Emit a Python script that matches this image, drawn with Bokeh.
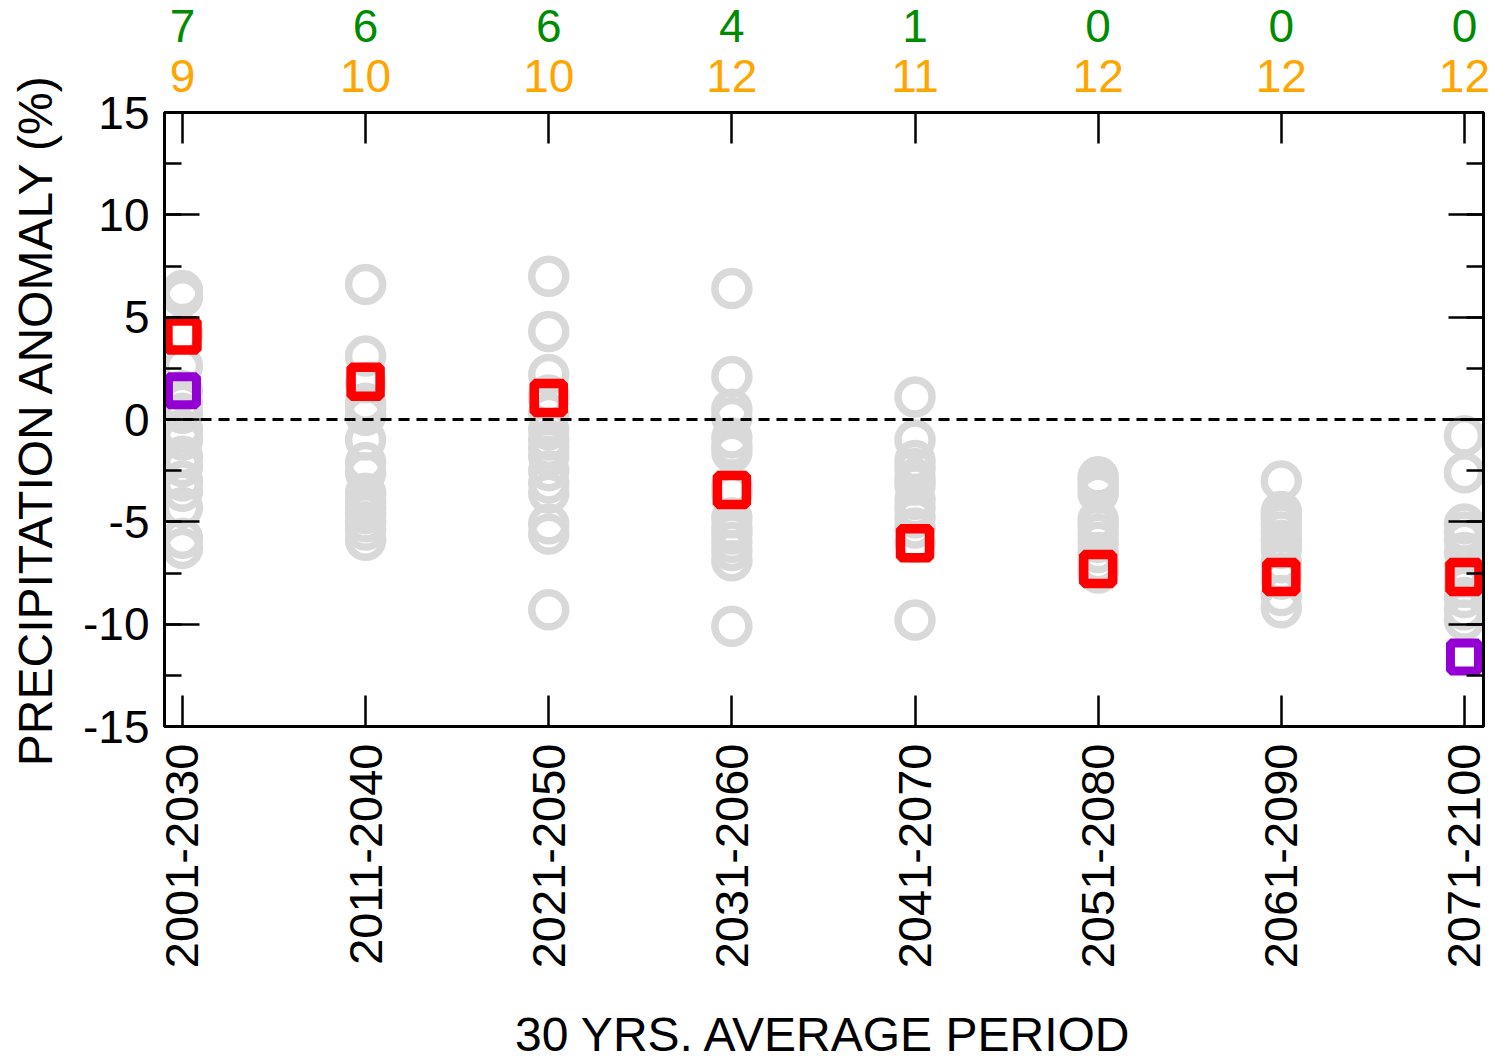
from math import pi
from bokeh.plotting import figure
from bokeh.models import (FixedTicker, SingleIntervalTicker, LinearAxis, Range1d, Span)
from bokeh.embed import file_html
from bokeh.resources import INLINE

periods = ["2001-2030", "2011-2040", "2021-2050", "2031-2060",
           "2041-2070", "2051-2080", "2061-2090", "2071-2100"]
green_counts = [7, 6, 6, 4, 1, 0, 0, 0]
orange_counts = [9, 10, 10, 12, 11, 12, 12, 12]

models = [
    [6.3, 6.0, 4.2, 2.6, 1.4, 0.8, 0.3, -0.5, -1.0, -1.8, -2.3, -3.0, -3.5, -4.3, -5.8, -6.3],
    [6.6, 3.1, 1.8, 0.8, 0.5, 0.2, -1.0, -2.1, -2.6, -3.6, -4.0, -4.3, -4.6, -5.0, -5.4, -5.9],
    [7.0, 4.3, 2.2, 1.2, 1.0, 0.3, -0.5, -1.0, -1.4, -1.8, -2.5, -3.1, -3.6, -5.1, -5.6, -9.3],
    [6.4, 2.1, 0.5, 0.1, -0.9, -1.3, -1.6, -3.3, -3.6, -4.8, -5.3, -5.6, -6.0, -6.4, -6.9, -10.1],
    [1.1, -1.0, -2.0, -2.4, -2.9, -3.2, -3.9, -4.3, -4.8, -5.3, -6.0, -9.8],
    [-2.8, -3.0, -3.3, -3.6, -4.9, -5.2, -5.6, -6.0, -6.5, -7.0, -7.3, -7.5],
    [-3.0, -4.5, -4.8, -5.1, -5.5, -5.9, -6.3, -7.0, -7.5, -7.8, -8.6, -9.2],
    [-0.8, -2.6, -5.1, -5.5, -5.9, -6.5, -7.2, -7.7, -8.2, -8.7, -9.3, -9.8],
]
ensemble_mean = [4.1, 1.85, 1.05, -3.45, -6.05, -7.3, -7.7, -7.7]
obs_idx = [0, 7]
obs_vals = [1.4, -11.6]
y_ticks = [-15, -10, -5, 0, 5, 10, 15]

FONT = "Liberation Sans"
FS = "46px"
FS_LABEL = "48px"

cx, cy = [], []
for i, col in enumerate(models):
    for v in col:
        cx.append(i)
        cy.append(v)

p = figure(frame_width=1319, frame_height=614,
           x_range=Range1d(-0.098, 7.104), y_range=Range1d(-15, 15),
           output_backend="svg", toolbar_location=None,
           min_border_left=164, min_border_right=10,
           min_border_top=112, min_border_bottom=300)
p.grid.visible = False
p.outline_line_color = "black"
p.outline_line_width = 3
p.background_fill_color = "white"
p.border_fill_color = "white"

p.scatter(x=cx, y=cy, marker="circle", size=34, fill_color=None,
          line_color="#d9d9d9", line_width=7.5)
p.add_layout(Span(location=0, dimension="width", line_color="black",
                  line_width=2.8, line_dash="11 7"))
p.scatter(x=list(range(8)), y=ensemble_mean, marker="square", size=29,
          fill_color=None, line_color="#ff0000", line_width=9.5)
p.scatter(x=obs_idx, y=obs_vals, marker="square", size=28,
          fill_color=None, line_color="#9400d3", line_width=9)

xt = list(range(8))
xa = p.xaxis[0]
xa.ticker = FixedTicker(ticks=xt)
xa.major_label_overrides = {i: periods[i] for i in xt}
xa.major_label_orientation = pi / 2
xa.major_tick_in = 31
xa.major_tick_out = 0
xa.major_tick_line_width = 2.5
xa.axis_line_width = 3
xa.major_label_standoff = 17
xa.major_label_text_font = FONT
xa.major_label_text_font_size = "47px"
xa.major_label_text_color = "black"
xa.axis_label = "30 YRS. AVERAGE PERIOD"
xa.axis_label_text_font = FONT
xa.axis_label_text_font_size = FS_LABEL
xa.axis_label_text_font_style = "normal"
xa.axis_label_text_color = "black"
xa.axis_label_standoff = 37

ya = p.yaxis[0]
ya.ticker = SingleIntervalTicker(interval=5, num_minor_ticks=2)
ya.major_label_overrides = {v: str(v) for v in y_ticks}
ya.major_tick_in = 35
ya.major_tick_out = 0
ya.minor_tick_in = 17
ya.minor_tick_out = 0
ya.major_tick_line_width = 2.5
ya.minor_tick_line_width = 2.5
ya.axis_line_width = 3
ya.major_label_standoff = 15
ya.major_label_text_font = FONT
ya.major_label_text_font_size = FS
ya.major_label_text_color = "black"
ya.axis_label = "PRECIPITATION ANOMALY (%)"
ya.axis_label_text_font = FONT
ya.axis_label_text_font_size = FS_LABEL
ya.axis_label_text_font_style = "normal"
ya.axis_label_text_color = "black"
ya.axis_label_standoff = 18

ra = LinearAxis(ticker=SingleIntervalTicker(interval=5, num_minor_ticks=2),
                major_tick_in=35, major_tick_out=0, minor_tick_in=17, minor_tick_out=0,
                major_tick_line_width=2.5, minor_tick_line_width=2.5, axis_line_width=3,
                major_label_standoff=0,
                major_label_overrides={v: "" for v in y_ticks})
p.add_layout(ra, "right")

oa = LinearAxis(ticker=FixedTicker(ticks=xt),
                major_label_overrides={i: str(orange_counts[i]) for i in xt},
                major_tick_in=31, major_tick_out=0, major_tick_line_width=2.5,
                axis_line_width=3, major_label_standoff=21,
                major_label_text_font=FONT, major_label_text_font_size=FS,
                major_label_text_color="#ffa500")
p.add_layout(oa, "above")

ga = LinearAxis(ticker=FixedTicker(ticks=xt),
                major_label_overrides={i: str(green_counts[i]) for i in xt},
                major_tick_line_color=None, axis_line_color=None,
                major_tick_in=0, major_tick_out=0, major_label_standoff=15,
                major_label_text_font=FONT, major_label_text_font_size=FS,
                major_label_text_color="#008c00")
p.add_layout(ga, "above")

open("out.html", "w").write(file_html(p, INLINE))
